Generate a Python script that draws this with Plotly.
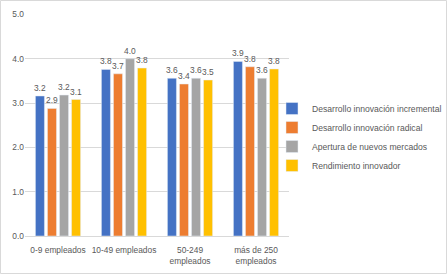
import plotly.graph_objects as go

categories = ["0-9 empleados", "10-49 empleados", "50-249<br>empleados", "más de 250<br>empleados"]
series_names = ["Desarrollo innovación incremental", "Desarrollo innovación radical",
                "Apertura de nuevos mercados", "Rendimiento innovador"]
incremental = [3.16, 3.76, 3.56, 3.94]
radical = [2.88, 3.66, 3.43, 3.82]
mercados = [3.18, 4.00, 3.56, 3.56]
rendimiento = [3.08, 3.79, 3.52, 3.77]
colors = ["#4472C4", "#ED7D31", "#A5A5A5", "#FFC000"]
y_ticks = [0, 1, 2, 3, 4, 5]

FONT = "Liberation Sans, Arial, sans-serif"
fig = go.Figure()
for name, vals, col in zip(series_names, [incremental, radical, mercados, rendimiento], colors):
    fig.add_trace(go.Bar(
        x=categories, y=vals, name=name, marker_color=col,
        texttemplate="%{y:.1f}", textposition="outside", cliponaxis=False,
        constraintext="none",
        textfont=dict(size=8.4, color="#595959", family=FONT),
    ))

W, H = 447, 274
L, R, T, B = 25, 158, 14, 38
pw, ph = W - L - R, H - T - B
fig.update_layout(
    width=W, height=H,
    margin=dict(l=L, r=R, t=T, b=B, pad=0, autoexpand=False),
    paper_bgcolor="white", plot_bgcolor="white",
    barmode="group", bargap=0.27, bargroupgap=0.25,
    font=dict(family=FONT, size=8.4, color="#595959"),
    showlegend=True,
    legend=dict(xref="container", yref="container",
                x=272 / W, xanchor="left", y=1 - 94 / H, yanchor="top",
                font=dict(size=8.6, color="#595959", family=FONT),
                itemwidth=30, tracegroupgap=0, bgcolor="rgba(0,0,0,0)"),
    xaxis=dict(showgrid=False, showline=True, linecolor="#D9D9D9", ticks="",
               tickangle=0, tickfont=dict(size=8.4, color="#595959"), ticklen=0,
               ticklabelstandoff=6),
    yaxis=dict(range=[0, 5.01], tickvals=y_ticks, tickformat=".1f", showgrid=True,
               gridcolor="#D9D9D9", zeroline=False, showline=False, ticks="",
               tickfont=dict(size=8.4, color="#595959")),
    shapes=[dict(type="rect", xref="paper", yref="paper",
                 x0=(0.5 - L) / pw, x1=(W - 0.5 - L) / pw,
                 y0=-(B - 0.5) / ph, y1=(ph + T - 0.5) / ph,
                 line=dict(color="#D9D9D9", width=1), fillcolor="rgba(0,0,0,0)", layer="below")],
)
fig.write_html("out.html", config={"displayModeBar": False},
               post_script="document.body.style.margin='0';")
